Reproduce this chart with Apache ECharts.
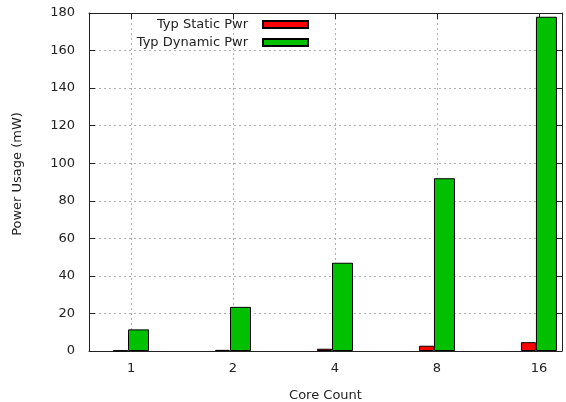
<!DOCTYPE html>
<html>
<head>
<meta charset="utf-8">
<script src="https://cdn.jsdelivr.net/npm/echarts@6/dist/echarts.min.js"></script>
<style>
  html, body { margin: 0; padding: 0; background: #fff; }
  #chart { width: 566px; height: 402px; }
</style>
</head>
<body>
<div id="chart"></div>
<script>
// Core counts shown on the x axis
const coreCounts = ['1', '2', '4', '8', '16'];
// Typical power per configuration, in mW
const staticPwr = [0.3, 0.6, 1.2, 2.8, 4.7];
const dynamicPwr = [11.5, 23.5, 47, 92, 178];
// Value-axis ticks
const yMin = 0, yMax = 180, yStep = 20;

const FONT = 'DejaVu Sans';
const TEXT = '#222';
const FRAME = '#222';

const toPoints = arr => arr.map((v, i) => [i, v]);
const xLabel = v => (Number.isInteger(v) && coreCounts[v] !== undefined) ? coreCounts[v] : '';

const chart = echarts.init(document.getElementById('chart'), null, { renderer: 'canvas' });

const gridLine = { show: true, lineStyle: { color: '#b0b0b0', type: [2, 3], width: 1 } };
const innerTick = { show: true, inside: true, length: 6, lineStyle: { color: FRAME } };
const frameLine = { show: true, onZero: false, lineStyle: { color: FRAME, width: 1 } };

const xRange = { min: -0.412, max: 4.226 };

const legendBase = {
  orient: 'vertical',
  right: 257,
  align: 'right',
  padding: 0,
  itemWidth: 45,
  itemHeight: 7,
  icon: 'rect',
  selectedMode: false,
  textStyle: { fontFamily: FONT, fontSize: 13, color: TEXT, padding: [0, 10, 0, 0] }
};

chart.setOption({
  animation: false,
  backgroundColor: '#fff',
  grid: { left: 89, top: 13, width: 473, height: 338, containLabel: false, outerBoundsMode: 'none' },
  legend: [
    Object.assign({}, legendBase, { top: 18, data: ['Typ Static Pwr'] }),
    Object.assign({}, legendBase, { top: 36, data: ['Typ Dynamic Pwr'] })
  ],
  xAxis: [
    Object.assign({
      type: 'value',
      position: 'bottom',
      name: 'Core Count',
      nameLocation: 'middle',
      nameGap: 38,
      nameTextStyle: { fontFamily: FONT, fontSize: 13, color: TEXT },
      axisLine: frameLine,
      axisTick: innerTick,
      splitLine: gridLine,
      axisLabel: {
        formatter: xLabel, showMinLabel: false, showMaxLabel: false,
        fontFamily: FONT, fontSize: 13, color: TEXT, margin: 11
      }
    }, xRange),
    Object.assign({
      type: 'value',
      position: 'top',
      axisLine: frameLine,
      axisTick: innerTick,
      splitLine: { show: false },
      axisLabel: { show: false }
    }, xRange)
  ],
  yAxis: [
    {
      type: 'value',
      position: 'left',
      min: yMin, max: yMax, interval: yStep,
      name: 'Power Usage (mW)',
      nameLocation: 'middle',
      nameGap: 65,
      nameTextStyle: { fontFamily: FONT, fontSize: 13, color: TEXT, padding: [0, 0, 0, 16] },
      axisLine: frameLine,
      axisTick: innerTick,
      splitLine: gridLine,
      axisLabel: { fontFamily: FONT, fontSize: 13, color: TEXT, margin: 14 }
    },
    {
      type: 'value',
      position: 'right',
      min: yMin, max: yMax, interval: yStep,
      axisLine: frameLine,
      axisTick: innerTick,
      splitLine: { show: false },
      axisLabel: { show: false }
    }
  ],
  series: [
    {
      name: 'Typ Static Pwr',
      type: 'bar',
      xAxisIndex: 0, yAxisIndex: 0,
      barWidth: 15,
      barGap: '0%',
      data: toPoints(staticPwr),
      itemStyle: { color: '#ff0000', borderColor: '#000', borderWidth: 1 }
    },
    {
      name: 'Typ Dynamic Pwr',
      type: 'bar',
      xAxisIndex: 0, yAxisIndex: 0,
      barWidth: 21,
      barGap: '0%',
      data: toPoints(dynamicPwr),
      itemStyle: { color: '#00c000', borderColor: '#000', borderWidth: 1 }
    }
  ]
});
</script>
</body>
</html>
